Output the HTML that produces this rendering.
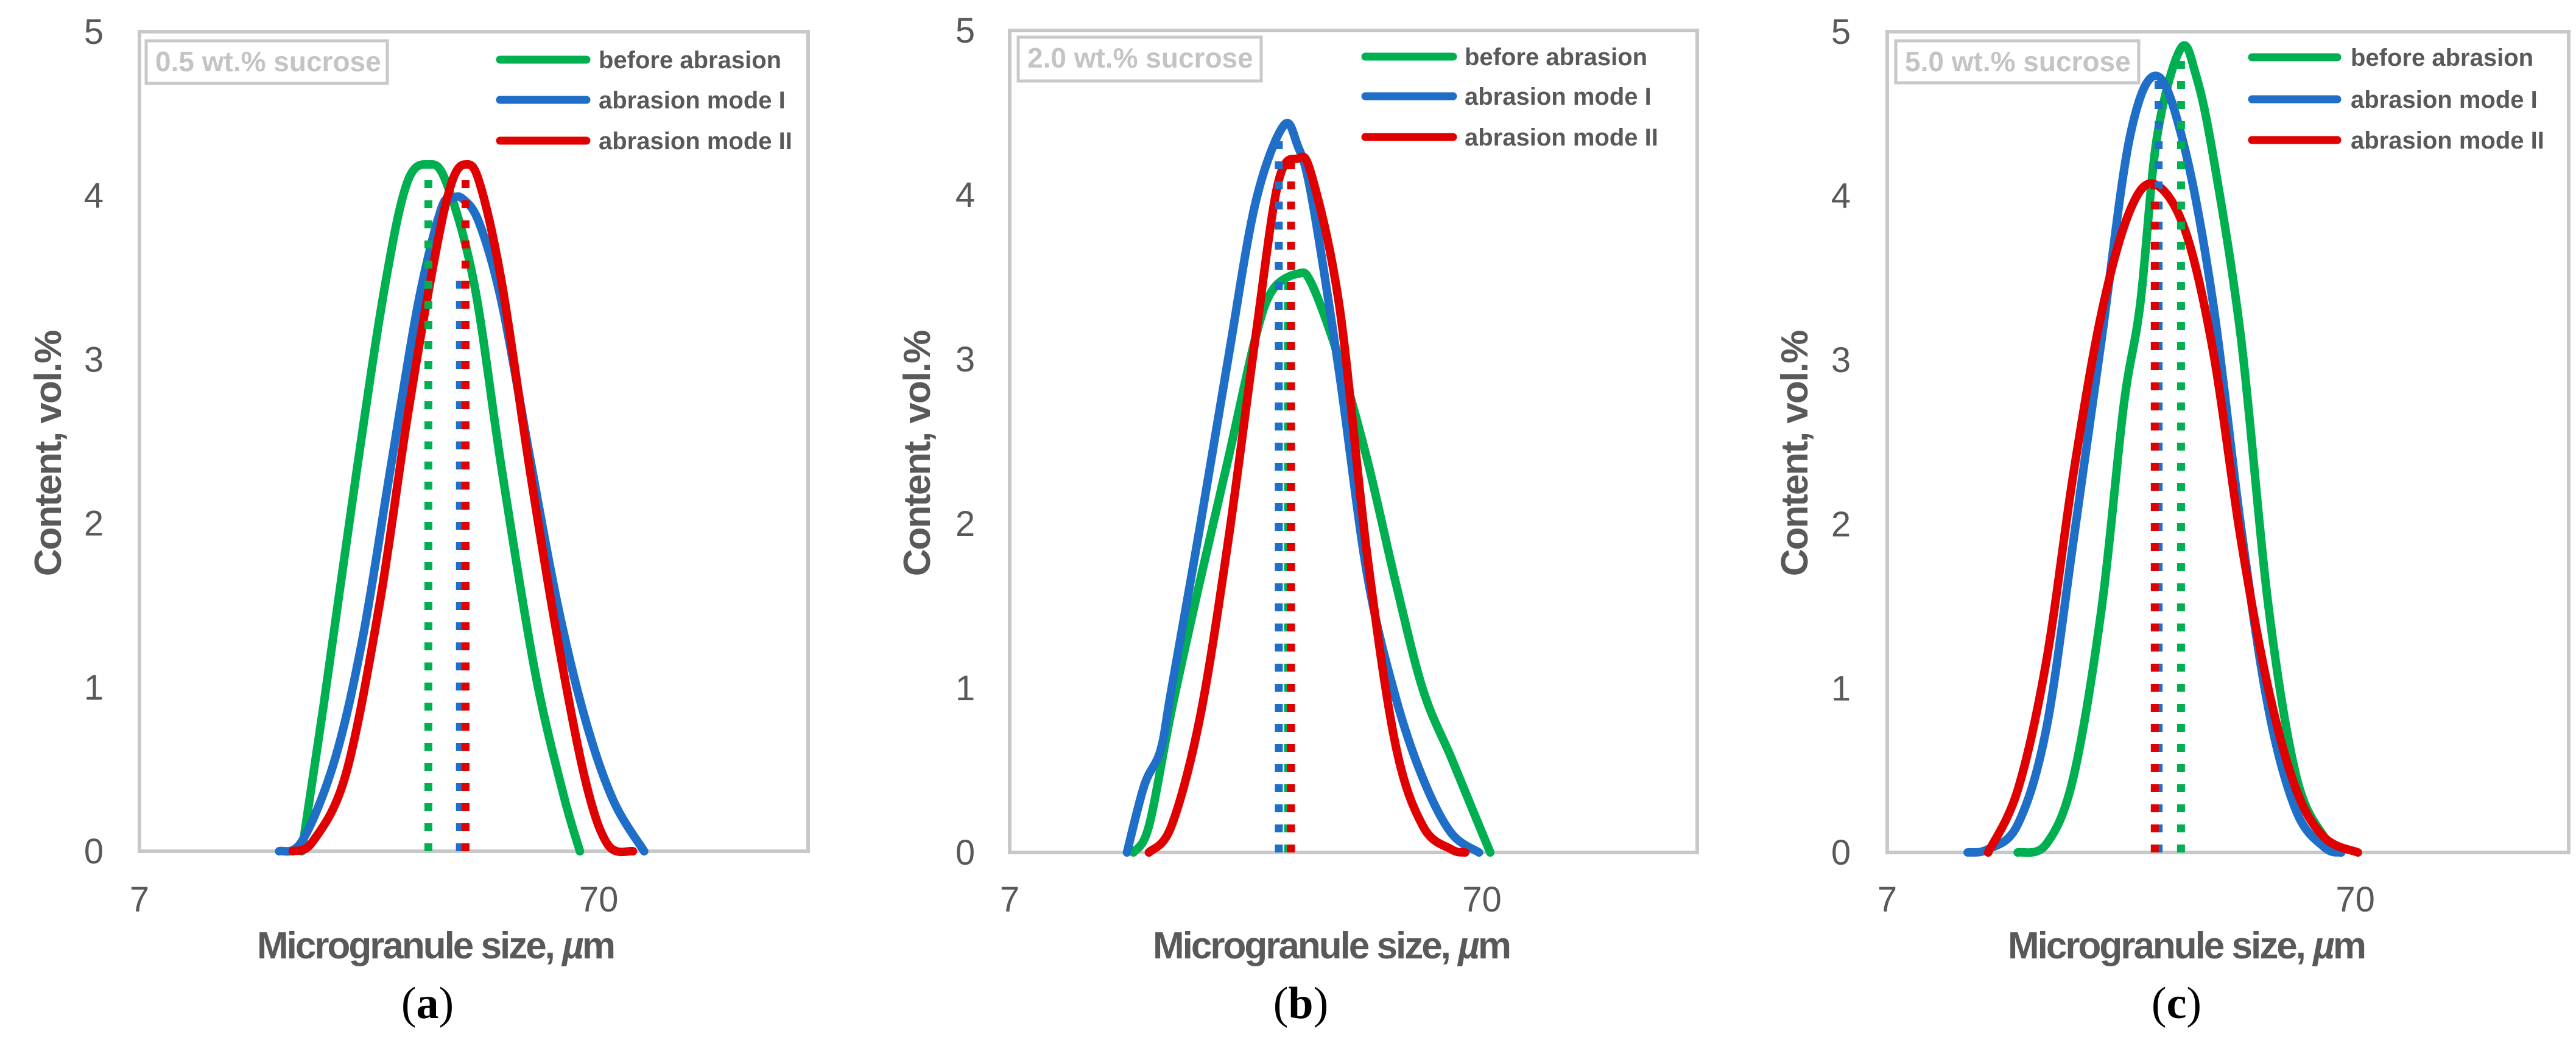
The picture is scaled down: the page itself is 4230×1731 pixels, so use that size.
<!DOCTYPE html>
<html><head><meta charset="utf-8"><style>
html,body{margin:0;padding:0;background:#fff;}
svg{display:block;}
</style></head><body>
<svg id="fig" width="4230" height="1731" viewBox="0 0 4230 1731" xmlns="http://www.w3.org/2000/svg" font-family="Liberation Sans, Arial, sans-serif"></svg>
<script>
const seriesNames = ["before abrasion","abrasion mode I","abrasion mode II"];
const seriesColors = ["#00b050","#1f6fc8","#e00000"];
const xTickLabels = ["7","70"];
const xTickValues = [7,70];
const yTickValues = [0,1,2,3,4,5];
const panelLabels = ["0.5 wt.% sucrose","2.0 wt.% sucrose","5.0 wt.% sucrose"];
const panelCaptions = ["a","b","c"];

// Panel (a)
const aGreenX = [15.8,17.6,20.8,24.0,26.8,29.8,32.6,37.5,43.1,50.9,58.6,63.7];
const aGreenY = [0,0.88,2.32,3.46,4.08,4.19,4.08,3.46,2.32,1.09,0.35,0];
const aBlueX = [14.1,15.8,18.6,21.4,24.6,28.3,31.7,33.5,35.4,38.5,43.1,49.6,57.0,65.5,75.3,87.9];
const aBlueY = [0,0.06,0.55,1.29,2.32,3.34,3.91,3.98,3.98,3.83,3.34,2.40,1.5,0.8,0.31,0];
const aRedX = [15.1,16.7,19.7,23.3,26.8,30.8,33.5,35.9,38.5,43.1,49.6,57.0,65.5,73.3,83.1];
const aRedY = [0,0.06,0.47,1.5,2.64,3.63,4.08,4.19,4.08,3.46,2.32,1.29,0.43,0.04,0];
const aMedianX = [29.8,34.9,35.9];
const aMedianY = [4.18,3.55,4.18];

// Panel (b)
const bGreenX = [12.8,13.8,15.4,17.7,20.3,23.2,25.2,28.5,30.5,34.9,40.0,45.9,52.5,60.2,67.1,72.9];
const bGreenY = [0,0.16,0.86,1.65,2.39,3.13,3.42,3.52,3.46,3.0,2.39,1.65,0.99,0.58,0.25,0];
const bBlueX = [12.4,13.5,14.6,15.4,17.7,20.3,23.2,26.6,28.5,30.5,34.9,40.0,45.9,52.5,60.2,69.0];
const bBlueY = [0,0.41,0.62,0.99,1.98,3.0,3.95,4.42,4.30,3.99,2.92,1.69,0.95,0.45,0.12,0];
const bRedX = [13.8,15.4,17.7,20.3,23.2,25.9,28.5,30.5,34.9,40.0,45.9,52.5,60.2,64.5];
const bRedY = [0,0.16,0.82,1.89,3.13,4.07,4.22,4.12,3.33,1.81,0.66,0.16,0.02,0];
const bMedianX = [27.2,26.0,27.6];
const bMedianY = [3.5,4.4,4.2];

// Panel (c)
const cGreenX = [13.3,15.3,17.5,20.1,22.4,24.3,26.4,29.7,32.0,34.8,39.9,45.7,52.4,60.2,65.3];
const cGreenY = [0,0.05,0.46,1.49,2.72,3.34,4.36,4.9,4.73,4.24,3.13,1.49,0.46,0.09,0];
const cBlueX = [10.4,11.5,13.3,15.3,17.5,20.1,23.1,26.4,30.3,34.8,39.9,45.7,52.4,60.2,65.3];
const cBlueY = [0,0.02,0.17,0.75,1.9,3.13,4.36,4.73,4.28,3.34,1.98,0.87,0.25,0.03,0];
const cRedX = [11.5,13.3,15.3,17.5,20.1,23.1,26.1,30.3,34.8,39.9,45.7,52.4,60.2,70.9];
const cRedY = [0,0.38,1.16,2.31,3.29,3.91,4.07,3.79,3.05,1.9,0.99,0.38,0.09,0];
const cMedianX = [29.7,26.6,26.1];
const cMedianY = [4.88,4.7,4.05];

const panels = [
  {L:229,R:1327,T:52,B:1398,ytx:154,ytitle:80,xtitle:715,cap:702,lb:[240,67,636,137],lg:[821,963,983,[98,164,231]],
   xs:[aGreenX,aBlueX,aRedX],ys:[aGreenY,aBlueY,aRedY],mx:aMedianX,my:aMedianY},
  {L:1658,R:2787,T:50,B:1400,ytx:1585,ytitle:1507,xtitle:2186,cap:2136,lb:[1672,61,2071,133],lg:[2242,2386,2405,[93,158,225]],
   xs:[bGreenX,bBlueX,bRedX],ys:[bGreenY,bBlueY,bRedY],mx:bMedianX,my:bMedianY},
  {L:3099,R:4218,T:52,B:1400,ytx:3023,ytitle:2948,xtitle:3590,cap:3574,lb:[3113,67,3512,136],lg:[3698,3838,3860,[94,163,230]],
   xs:[cGreenX,cBlueX,cRedX],ys:[cGreenY,cBlueY,cRedY],mx:cMedianX,my:cMedianY}
];

const NS="http://www.w3.org/2000/svg";
const svg=document.getElementById('fig');
function mk(tag,attrs,parent){const e=document.createElementNS(NS,tag);for(const k in attrs)e.setAttribute(k,attrs[k]);(parent||svg).appendChild(e);return e;}
function smooth(pts){
  let d="M"+pts[0][0].toFixed(1)+","+pts[0][1].toFixed(1);
  for(let i=0;i<pts.length-1;i++){
    const p0=pts[Math.max(0,i-1)],p1=pts[i],p2=pts[i+1],p3=pts[Math.min(pts.length-1,i+2)];
    const c1=[p1[0]+(p2[0]-p0[0])/6,p1[1]+(p2[1]-p0[1])/6];
    const c2=[p2[0]-(p3[0]-p1[0])/6,p2[1]-(p3[1]-p1[1])/6];
    d+=" C"+c1[0].toFixed(1)+","+c1[1].toFixed(1)+" "+c2[0].toFixed(1)+","+c2[1].toFixed(1)+" "+p2[0].toFixed(1)+","+p2[1].toFixed(1);
  }
  return d;
}

panels.forEach((p,pi)=>{
  const g=mk('g',{});
  
  
  const xMin=7,xMax=200;
  const xs=v=>p.L+(p.R-p.L)*Math.log10(v/xMin)/Math.log10(xMax/xMin);
  const ys=v=>p.B-(p.B-p.T)*v/5;
  const frame=mk('rect',{x:p.L,y:p.T,width:p.R-p.L,height:p.B-p.T,fill:'none',stroke:'#c8c8c8','stroke-width':6},g);
  
  
  yTickValues.forEach(v=>{
    const t=mk('text',{x:p.ytx,y:ys(v)+20,'text-anchor':'middle','font-size':58,fill:'#595959'},g);
    t.textContent=String(v);
    
    
  });
  xTickValues.forEach((v,i)=>{
    const t=mk('text',{x:xs(v),y:1497,'text-anchor':'middle','font-size':58,fill:'#595959'},g);
    t.textContent=xTickLabels[i];
    
    
  });
  const yt=mk('text',{x:p.ytitle,y:725,'text-anchor':'middle','font-size':62,'font-weight':'bold',fill:'#595959','letter-spacing':'-2',transform:'rotate(-90 '+(p.ytitle+20)+' 725)'},g);
  yt.textContent='Content, vol.%';
  
  
  const xt=mk('text',{x:p.xtitle,y:1574,'text-anchor':'middle','font-size':62,'font-weight':'bold',fill:'#595959','letter-spacing':'-3'},g);
  xt.innerHTML='Microgranule size, <tspan font-style="italic">µ</tspan>m';
  
  
  const cap=mk('text',{x:p.cap,y:1672,'text-anchor':'middle','font-size':74,'font-family':'Liberation Serif, serif',fill:'#000'},g);
  cap.innerHTML='(<tspan font-weight="bold">'+panelCaptions[pi]+'</tspan>)';
  
  
  const lb=mk('rect',{x:p.lb[0],y:p.lb[1],width:p.lb[2]-p.lb[0],height:p.lb[3]-p.lb[1],fill:'#fff',stroke:'#c8c8c8','stroke-width':5},g);
  
  
  const lt=mk('text',{x:p.lb[0]+15,y:p.lb[1]+50,'font-size':46,'font-weight':'bold',fill:'#c4c4c4'},g);
  lt.textContent=panelLabels[pi];
  
  
  for(let s=0;s<3;s++){
    const pts=p.xs[s].map((v,i)=>[xs(v),ys(p.ys[s][i])]);
    const path=mk('path',{d:smooth(pts),fill:'none',stroke:seriesColors[s],'stroke-width':14,'stroke-linejoin':'round','stroke-linecap':'round'},g);
    
    
  }
  for(let s=0;s<3;s++){
    const x=xs(p.mx[s]);
    const ln=mk('line',{x1:x,y1:p.B,x2:x,y2:ys(p.my[s]),stroke:seriesColors[s],'stroke-width':13,'stroke-dasharray':'13 20'},g);
    
    
  }
  for(let s=0;s<3;s++){
    const y=p.lg[3][s];
    const ll=mk('line',{x1:p.lg[0],y1:y,x2:p.lg[1],y2:y,stroke:seriesColors[s],'stroke-width':13,'stroke-linecap':'round'},g);
    
    
    const tx=mk('text',{x:p.lg[2],y:y+14,'font-size':40,'font-weight':'bold',fill:'#595959'},g);
    tx.textContent=seriesNames[s];
    
    
  }
});
</script>
</body></html>
